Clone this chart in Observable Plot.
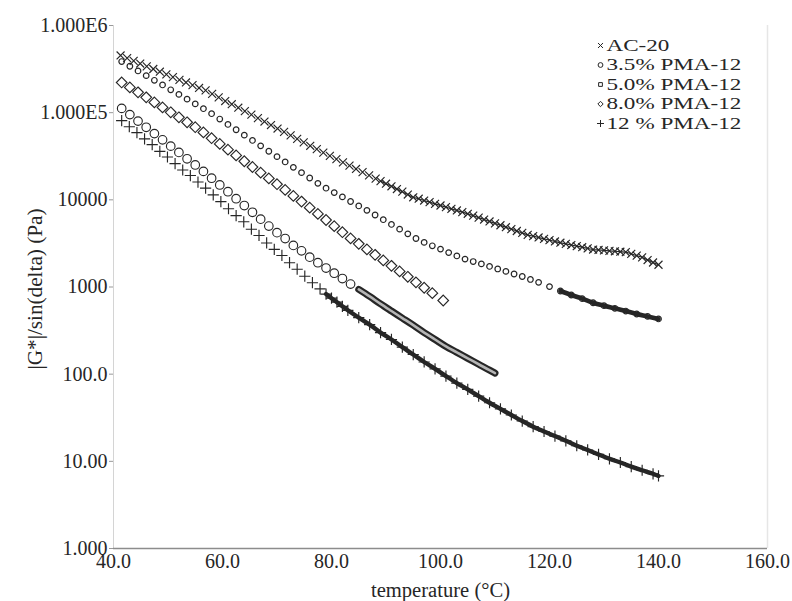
<!DOCTYPE html>
<html>
<head>
<meta charset="utf-8">
<script src="https://cdn.jsdelivr.net/npm/d3@7"></script>
<script src="https://cdn.jsdelivr.net/npm/@observablehq/plot@0.6"></script>
<style>
  body { margin: 0; background: #fff; }
  #chart { width: 792px; height: 601px; }
</style>
</head>
<body>
<div id="chart"></div>
<script>
// Complex modulus over sin(delta) of the base binder and the PMA-12 modified binders,
// temperature sweep from about 41 to 140 °C.

const seriesNames = ["AC-20", "3.5% PMA-12", "5.0% PMA-12", "8.0% PMA-12", "12 % PMA-12"];

// AC-20
const ac20Temp = [41.5,42.9,44.3,45.7,47.1,48.5,49.9,51.3,52.7,54.1,55.5,56.9,58.3,59.7,61.1,62.5,63.9,65.3,66.7,68.1,69.5,70.9,72.3,73.7,75.1,76.5,77.9,
  79,80,81,82,83,85,87,89,91,93,95,97,99,101,103,105,107,109,111,113,115,117,119,121,123,125,127,129,131,133,135,137,139,140];
const ac20G = [81000,69000,59000,50000,43000,36000,31000,26000,22000,19000,16000,13600,11400,9550,7900,6600,5600,4600,3900,3200,2700,2300,1900,1600,1330,1120,950,
  830,745,670,600,540,445,370,300,250,204,168,138,115,95,79,67,56,47,40,34,29,25,22,19.5,17.2,15.1,13.5,12.0,10.7,9.7,8.7,7.9,7.2,6.8];

// 3.5% PMA-12
const pma35Temp = [41.5,43,44.5,46,47.5,49,50.5,52,53.5,55,56.5,58,59.5,61,62.5,64,65.5,67,68.5,70,71.5,73,74.5,76,77.5,79,80.5,82,83.5,
  85,87,89,91,93,95,97,99,101,103,105,107,109,110];
const pma35G = [112000,95000,80000,68000,57500,48800,41300,35000,29600,25100,21200,17700,14800,12400,10300,8600,7200,6000,5000,4200,3600,3000,2600,2200,1900,1650,1440,1250,1080,
  940,780,640,530,440,365,300,250,208,178,152,130,111,103];

// 5.0% PMA-12
const pma50Temp = [41.5,43,44.5,46,47.5,49,50.5,52,53.5,55,56.5,58,59.5,61,62.5,64,65.5,67,68.5,70,71.5,73,74.5,76,77.5,79,80.5,82,83.5,85,86.5,88,89.5,91,92.5,94,95.5,97,98.5,100.5];
const pma50G = [222000,195000,171000,150000,131000,115000,101000,88500,77600,68100,59300,50900,43800,37600,32300,27700,23800,20500,17600,15100,13000,11100,9550,8130,6900,5870,4990,4250,3610,3130,2700,2340,2020,1750,1510,1310,1130,980,850,700];

// 8.0% PMA-12
const pma80Temp = [41.5,43,44.5,46,47.5,49,50.5,52,53.5,55,56.5,58,59.5,61,62.5,64,65.5,67,68.5,70,71.5,73,74.5,76,77.5,79,80.5,82,83.5,85,86.5,88,89.5,91,92.5,94,95.5,97,98.5,100,
  101.5,103,104.5,106,107.5,109,110.5,112,113.5,115,116.5,118,120,122,124,126,128,130,132,134,136,138,140];
const pma80G = [386000,341000,301000,266000,235000,208000,183000,162000,143000,126000,111000,97300,84500,73300,63700,55200,48000,41600,36100,31300,27200,23600,20500,17800,15450,13600,12100,10800,9570,8510,7570,6700,5920,5220,4610,4070,3600,3250,2970,2720,
  2480,2270,2090,1960,1840,1720,1610,1510,1410,1320,1220,1130,1010,900,810,735,660,610,570,530,490,460,430];

// 12 % PMA-12
const pma12Temp = [41.3,42.5,43.7,44.9,46.1,47.3,48.5,49.7,50.9,52.1,53.3,54.5,55.7,56.9,58.1,59.3,60.5,61.7,62.9,64.1,65.3,66.5,67.7,68.9,70.1,71.3,72.5,73.7,74.9,76.1,77.3,78.5,79.7,80.9,82.1,83.3,84.5,85.7,86.9,88.1,
  89,90,91,92,93,94,95,96,97,98,99,100,101,102,103,104,105,106,107,108,109,110,111,112,113,114,115,116,117,118,119,120,121,122,123,124,125,126,127,128,129,130,131,132,133,134,135,136,137,138,139,140];
const pma12G = [453000,422000,393000,366000,340000,317000,295000,275000,256000,238000,222000,207000,192000,180000,164000,150000,136000,125000,114000,104000,95000,86500,79100,72100,65800,60100,54800,50100,45700,41700,38100,34800,31900,29300,26900,24700,22600,20800,19100,17500,
  16400,15300,14300,13300,12400,11500,10700,10300,9820,9400,9000,8610,8240,7890,7550,7230,6920,6580,6250,5940,5650,5370,5110,4850,4610,4390,4170,3960,3830,3700,3570,3450,3330,3220,3130,3030,2940,2860,2770,2690,2660,2630,2600,2570,2540,2510,2400,2290,2190,2040,1910,1800];

// temperature from which each sweep is sampled so densely that the markers merge into a trace
const traceFrom = [79, 85, null, 122, 89];

const xTicks = [40, 60, 80, 100, 120, 140, 160];
const xTickLabels = ["40.0", "60.0", "80.0", "100.0", "120.0", "140.0", "160.0"];
const yTicks = [1, 10, 100, 1000, 10000, 100000, 1000000];
const yTickLabels = ["1.000", "10.00", "100.0", "1000", "10000", "1.000E5", "1.000E6"];

const temps = [ac20Temp, pma35Temp, pma50Temp, pma80Temp, pma12Temp];
const mods = [ac20G, pma35G, pma50G, pma80G, pma12G];
const series = seriesNames.map((name, i) =>
  temps[i].map((t, j) => ({series: name, temp: t, g: mods[i][j]})));

const ink = "#262626";
const symbols = ["plus", "circle", "diamond2", "circle", "times"];
const radii = [3.7, 4.3, 4.8, 2.8, 3.7];
const legendSymbols = ["times", "circle", "square2", "diamond2", "plus"];

const font = "'Liberation Serif', 'DejaVu Serif', serif";
const fs = 20;
const legendFs = 17;
const marks = [];

// frame lines
marks.push(Plot.ruleX([160], {stroke: "#e6e6e6", strokeWidth: 1.5}));
marks.push(Plot.ruleX([40], {stroke: "#d4d4d4"}));
marks.push(Plot.ruleY([1], {stroke: "#8c8c8c", strokeWidth: 1.3}));

// axes
marks.push(Plot.axisY({ticks: yTicks, tickFormat: d => yTickLabels[yTicks.indexOf(d)], tickSize: 4, tickPadding: 2,
  stroke: "#999", fill: ink, fontSize: fs, label: null}));
marks.push(Plot.axisX({ticks: xTicks, tickFormat: d => xTickLabels[xTicks.indexOf(d)], tickSize: 0, tickPadding: 5,
  fill: ink, fontSize: fs, label: null}));

// dense parts of the sweeps drawn as traces
series.forEach((rows, i) => {
  if (traceFrom[i] == null) return;
  const seg = rows.filter(d => d.temp >= traceFrom[i]);
  if (i === 0) {
    marks.push(Plot.line(seg, {x: "temp", y: "g", stroke: ink, strokeWidth: 4.4, curve: "monotone-x"}));
  } else if (i === 1) {
    marks.push(Plot.line(seg, {x: "temp", y: "g", stroke: ink, strokeWidth: 7, curve: "monotone-x"}));
    marks.push(Plot.line(seg, {x: "temp", y: "g", stroke: "#b5b5b5", strokeWidth: 2.6, curve: "monotone-x"}));
  } else if (i === 3) {
    marks.push(Plot.line(seg, {x: "temp", y: "g", stroke: ink, strokeWidth: 4.6, curve: "monotone-x"}));
  } else {
    marks.push(Plot.line(seg, {x: "temp", y: "g", stroke: ink, strokeWidth: 1.2, curve: "monotone-x"}));
  }
});

// markers
series.forEach((rows, i) => {
  const pts = i === 1 ? rows.filter(d => d.temp < traceFrom[i]) : rows;
  marks.push(Plot.dot(pts, {x: "temp", y: "g", symbol: () => symbols[i], r: radii[i],
    stroke: ink, strokeWidth: i === 3 ? 1.2 : 1.15, fill: "none"}));
});

// legend
seriesNames.forEach((name, i) => {
  marks.push(Plot.dot([name], {frameAnchor: "top-left", dx: 487, dy: 20 + i * 19.5,
    symbol: () => legendSymbols[i], r: 2.4, stroke: ink, strokeWidth: 1, fill: "none"}));
  marks.push(Plot.text([name], {frameAnchor: "top-left", dx: 493, dy: 20 + i * 19.5, text: d => d,
    textAnchor: "start", lineAnchor: "middle", fontSize: legendFs, fill: ink}));
});

// axis titles
const yTitle = "|G*|/sin(delta) (Pa)";
const xTitle = "temperature (°C)";
marks.push(Plot.text([yTitle], {frameAnchor: "left", dx: -78, dy: 2, rotate: -90,
  textAnchor: "middle", lineAnchor: "middle", text: d => d, fontSize: fs, fill: ink}));
marks.push(Plot.text([xTitle], {frameAnchor: "bottom", dy: 42,
  textAnchor: "middle", lineAnchor: "middle", text: d => d, fontSize: fs, fill: ink}));

const chart = Plot.plot({
  width: 792,
  height: 601,
  marginLeft: 113,
  marginRight: 25,
  marginTop: 25,
  marginBottom: 53,
  style: {fontFamily: font, fontSize: fs + "px", background: "#fff", color: ink},
  x: {domain: [40, 160]},
  y: {type: "log", domain: [1, 1000000]},
  marks
});
document.getElementById("chart").append(chart);

// the serif face used here is a little narrower than the one the figure was typeset in:
// widen the legend entries and the y title along their baseline
const widen = new Map([...seriesNames.map(n => [n, 1.36]), [yTitle, 1.06], [xTitle, 1.03]]);
d3.select(chart).selectAll("text").each(function () {
  const k = widen.get(this.textContent);
  if (!k) return;
  const len = this.getComputedTextLength();
  this.setAttribute("textLength", (len * k).toFixed(1));
  this.setAttribute("lengthAdjust", "spacingAndGlyphs");
});
</script>
</body>
</html>
